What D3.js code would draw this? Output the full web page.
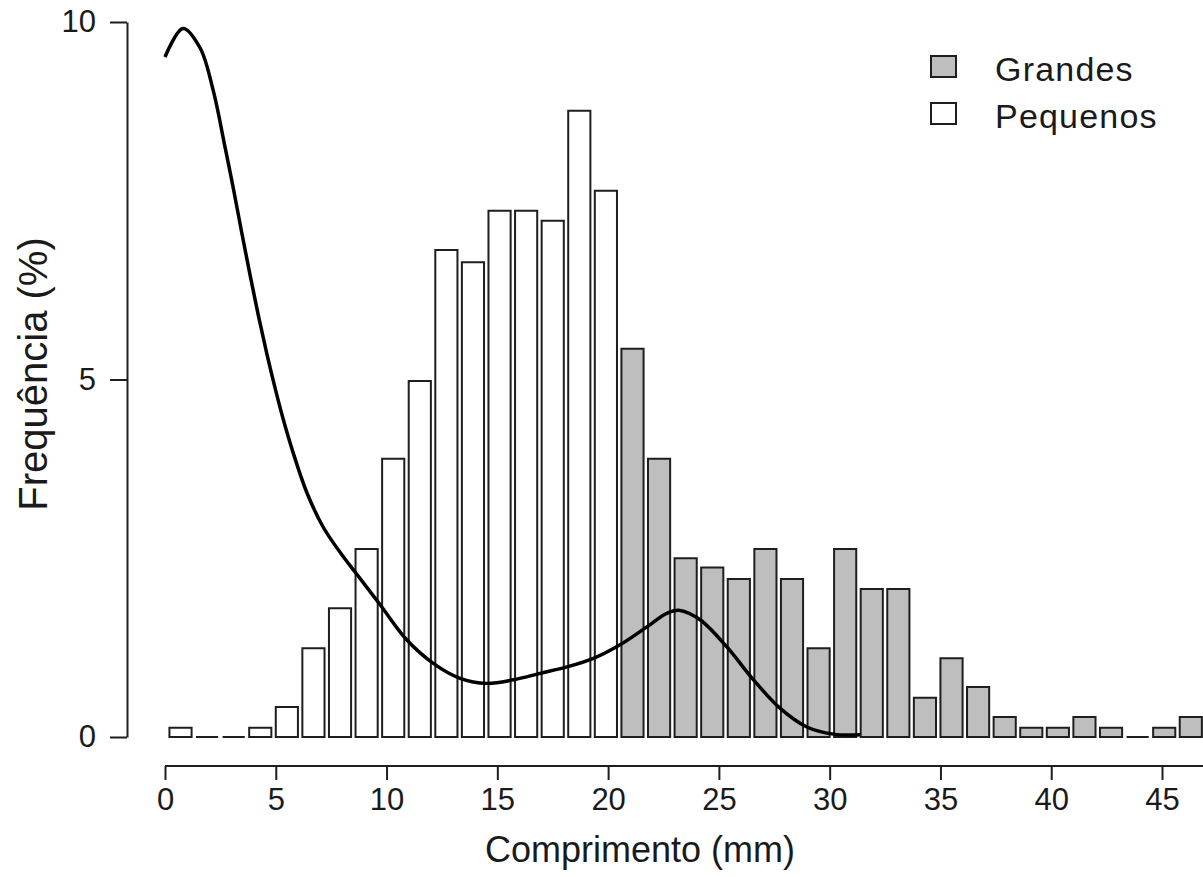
<!DOCTYPE html>
<html>
<head>
<meta charset="utf-8">
<script src="https://cdn.jsdelivr.net/npm/d3@7"></script>
<style>
  body { margin: 0; background: #fff; }
  text { font-family: "Liberation Sans", Arial, sans-serif; fill: #1a1a1a; }
</style>
</head>
<body>
<div id="chart"></div>
<script>
// frequency (%) per length class
var pequenos = [0.13, 0, 0, 0.13, 0.42, 1.24, 1.80, 2.63, 3.89, 4.98, 6.81, 6.64, 7.36, 7.36, 7.22, 8.76, 7.64];
var grandes = [5.43, 3.89, 2.50, 2.37, 2.21, 2.63, 2.21, 1.24, 2.63, 2.07, 2.07, 0.55, 1.10, 0.70, 0.28, 0.13, 0.13, 0.28, 0.13, 0, 0.13, 0.28];

// density curve (length, %)
var curveX = [0, 0.81, 1.58, 2.17, 2.71, 3.08, 3.46, 3.84, 4.21, 4.59, 4.97, 5.34, 5.79, 6.40, 7.15, 8.05, 8.65, 9.71, 10.91, 12.11, 13.32, 14.52, 15.72, 16.93, 18.14, 19.34, 20.54, 21.75, 22.65, 23.25, 24.15, 25.36, 26.56, 27.77, 28.97, 30.17, 31.38];
var curveY = [9.51, 9.91, 9.64, 9.05, 8.25, 7.68, 7.06, 6.46, 5.90, 5.37, 4.88, 4.44, 3.97, 3.42, 2.93, 2.52, 2.28, 1.85, 1.36, 1.03, 0.82, 0.75, 0.80, 0.89, 0.98, 1.10, 1.29, 1.54, 1.73, 1.77, 1.64, 1.26, 0.80, 0.40, 0.14, 0.04, 0.03];

var xTicks = [0, 5, 10, 15, 20, 25, 30, 35, 40, 45];
var yTicks = [0, 5, 10];
var legendLabels = ["Grandes", "Pequenos"];

var width = 1203, height = 877;

var bars = pequenos.map(function(v) { return {value: v, group: "Pequenos"}; })
  .concat(grandes.map(function(v) { return {value: v, group: "Grandes"}; }));

var x = d3.scaleLinear()
    .domain([0, 45])
    .range([165, 1162]);

var y = d3.scaleLinear()
    .domain([0, 10])
    .range([737, 22]);

var fill = {Grandes: "#bebebe", Pequenos: "#ffffff"};

var svg = d3.select("#chart").append("svg")
    .attr("width", width)
    .attr("height", height);

// bars: width 1, space 0.2 (barplot layout); paths so empty classes still show a line
var bw = x(1) - x(0);
svg.append("g")
  .selectAll("path")
  .data(bars)
  .enter().append("path")
    .attr("d", function(d, i) {
      var x0 = x(0.2 + 1.2 * i);
      return "M" + x0 + "," + y(0) + "V" + y(d.value) + "H" + (x0 + bw) + "V" + y(0) + "Z";
    })
    .style("fill", function(d) { return fill[d.group]; })
    .style("stroke", "#1e1e1e")
    .style("stroke-width", 2);

// density line
var line = d3.line()
    .x(function(d) { return x(d[0]); })
    .y(function(d) { return y(d[1]); })
    .curve(d3.curveCatmullRom);

svg.append("path")
    .datum(d3.zip(curveX, curveY))
    .attr("d", line)
    .style("fill", "none")
    .style("stroke", "#000")
    .style("stroke-width", 3.5);

// x axis
var xAxis = svg.append("g")
    .attr("transform", "translate(0,766)")
    .call(d3.axisBottom(x).tickValues(xTicks).tickSize(14).tickPadding(8).tickSizeOuter(0));
xAxis.select(".domain").attr("d", "M" + x(0) + ",0H" + width);

// y axis
var yAxis = svg.append("g")
    .attr("transform", "translate(127,0)")
    .call(d3.axisLeft(y).tickValues(yTicks).tickSize(17).tickPadding(14).tickSizeOuter(0));

svg.selectAll(".tick text")
    .style("font-size", "31px")
    .style("font-family", "'Liberation Sans', Arial, sans-serif")
    .style("fill", "#1a1a1a");
svg.selectAll(".domain, .tick line")
    .style("stroke", "#1e1e1e")
    .style("stroke-width", 2);

// axis titles
svg.append("text")
    .attr("x", 640)
    .attr("y", 862)
    .attr("text-anchor", "middle")
    .style("font-size", "36px")
    .text("Comprimento (mm)");

svg.append("text")
    .attr("transform", "translate(47,374) rotate(-90)")
    .attr("text-anchor", "middle")
    .style("font-size", "40px")
    .text("Frequência (%)");

// legend
var legend = svg.append("g")
  .selectAll("g")
  .data(legendLabels)
  .enter().append("g")
    .attr("transform", function(d, i) { return "translate(931," + (56 + i * 47) + ")"; });

legend.append("rect")
    .attr("width", 25)
    .attr("height", 21)
    .style("fill", function(d) { return fill[d]; })
    .style("stroke", "#1e1e1e")
    .style("stroke-width", 2);

legend.append("text")
    .attr("x", 64)
    .attr("y", 25)
    .style("font-size", "34px")
    .style("letter-spacing", "1.2px")
    .text(function(d) { return d; });
</script>
</body>
</html>
